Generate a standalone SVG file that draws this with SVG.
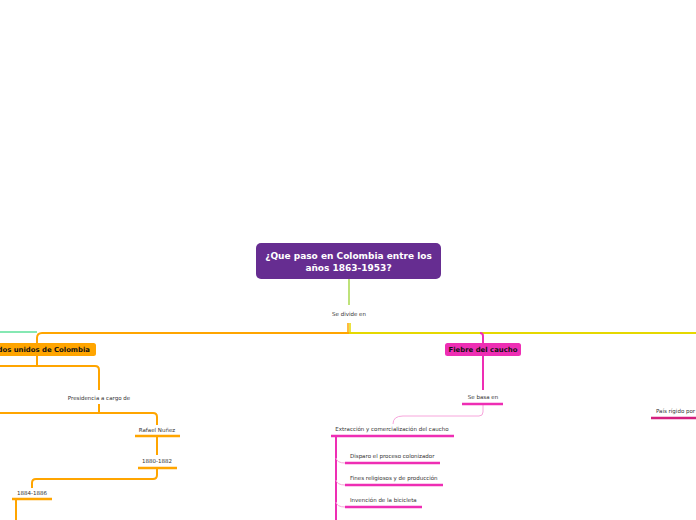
<svg xmlns="http://www.w3.org/2000/svg" width="696" height="520" viewBox="0 0 696 520">
<style>
.t{font-family:"DejaVu Sans","Liberation Sans",sans-serif;font-size:5.5px;fill:#333;text-anchor:middle}
.ts{font-family:"DejaVu Sans","Liberation Sans",sans-serif;font-size:5.5px;fill:#333}
.b{font-family:"DejaVu Sans","Liberation Sans",sans-serif;font-weight:bold;font-size:6.9px;fill:#111;text-anchor:middle}
.o{fill:none;stroke:#ffa500;stroke-width:2}
.y{fill:none;stroke:#e5d800;stroke-width:2}
.p{fill:none;stroke:#ee2eb4;stroke-width:2}
.lp{fill:none;stroke:#f7a6dc;stroke-width:1}
.ou{stroke:#ffa500;stroke-width:2.5}
.pu{stroke:#ee2eb4;stroke-width:2.5}
</style>
<rect width="696" height="520" fill="#fff"/>
<g id="connectors">
<line x1="349" y1="279" x2="349" y2="305" stroke="#a8d84e" stroke-width="1.5"/>
<line x1="348" y1="323" x2="348" y2="333" stroke="#ffa500" stroke-width="1.5"/>
<line x1="350" y1="323" x2="350" y2="333" stroke="#e5d800" stroke-width="1.5"/>
<line x1="0" y1="332" x2="37" y2="332" stroke="#5ce09a" stroke-width="1.5"/>
<path class="o" d="M349,333 H42 Q37,333 37,338 V343"/>
<path class="y" d="M349,333 H696"/>
<path class="p" d="M480,333 Q483,333 483,336 V343"/>
<path class="o" d="M37,356 V366"/>
<path class="o" d="M0,366 H95 Q99,366 99,370 V390"/>
<line x1="99" y1="404" x2="99" y2="412" class="o" stroke-width="2.5"/>
<path class="o" d="M0,413 H153 Q157,413 157,417 V425"/>
<path class="o" d="M157,436 V455"/>
<path class="o" d="M157,468 V475 Q157,479 153,479 H36 Q32,479 32,483 V488"/>
<path class="o" d="M16,499 V520"/>
<path class="p" d="M483,356 V390"/>
<path class="lp" d="M483,404 V412 Q483,416 479,416 H403 Q393,416 393,424"/>
<path class="p" d="M336,436 V520"/>
<path class="lp" d="M336,458 Q337,463 345,463"/>
<path class="lp" d="M336,480 Q337,485 345,485"/>
<path class="lp" d="M336,502 Q337,507 345,507"/>
</g>
<g id="central">
<rect x="256" y="243" width="185" height="36" rx="5" fill="#662d91"/>
<text x="348.5" y="259" class="b" style="fill:#fff;font-size:9px">¿Que paso en Colombia entre los</text>
<text x="348.5" y="270.5" class="b" style="fill:#fff;font-size:9px">años 1863-1953?</text>
</g>
<g id="se-divide"><text x="349" y="316" class="t">Se divide en</text></g>
<g id="estados">
<rect x="-10" y="343" width="106" height="13" rx="2.5" fill="#ffa500"/>
<text x="90" y="352.3" class="b" style="text-anchor:end">Estados unidos de Colombia</text>
</g>
<g id="presidencia"><text x="99" y="400" class="t">Presidencia a cargo de</text></g>
<g id="rafael"><text x="157" y="432" class="t">Rafael Nuñez</text><line x1="135" y1="436" x2="180" y2="436" class="ou"/></g>
<g id="y1880"><text x="157" y="463" class="t">1880-1882</text><line x1="138" y1="468" x2="177" y2="468" class="ou"/></g>
<g id="y1884"><text x="32" y="495" class="t">1884-1886</text><line x1="12" y1="499" x2="52" y2="499" class="ou"/></g>
<g id="fiebre">
<rect x="445" y="343" width="76" height="13" rx="2.5" fill="#ee2eb4"/>
<text x="483" y="352.3" class="b">Fiebre del caucho</text>
</g>
<g id="se-basa"><text x="483" y="399" class="t">Se basa en</text><line x1="462" y1="404" x2="503" y2="404" class="pu"/></g>
<g id="extraccion"><text x="392" y="431" class="t">Extracción y comercialización del caucho</text><line x1="331" y1="436" x2="454" y2="436" class="pu"/></g>
<g id="disparo"><text x="350" y="458" class="ts">Disparo el proceso colonizador</text><line x1="345" y1="463" x2="440" y2="463" class="pu"/></g>
<g id="fines"><text x="350" y="480" class="ts">Fines religiosos y de producción</text><line x1="345" y1="485" x2="443" y2="485" class="pu"/></g>
<g id="invencion"><text x="350" y="502" class="ts">Invención de la bicicleta</text><line x1="345" y1="507" x2="422" y2="507" class="pu"/></g>
<g id="pais"><text x="656" y="413" class="ts">País rígido por</text><line x1="651" y1="418" x2="696" y2="418" stroke="#d4207e" stroke-width="2.5"/></g>
</svg>
